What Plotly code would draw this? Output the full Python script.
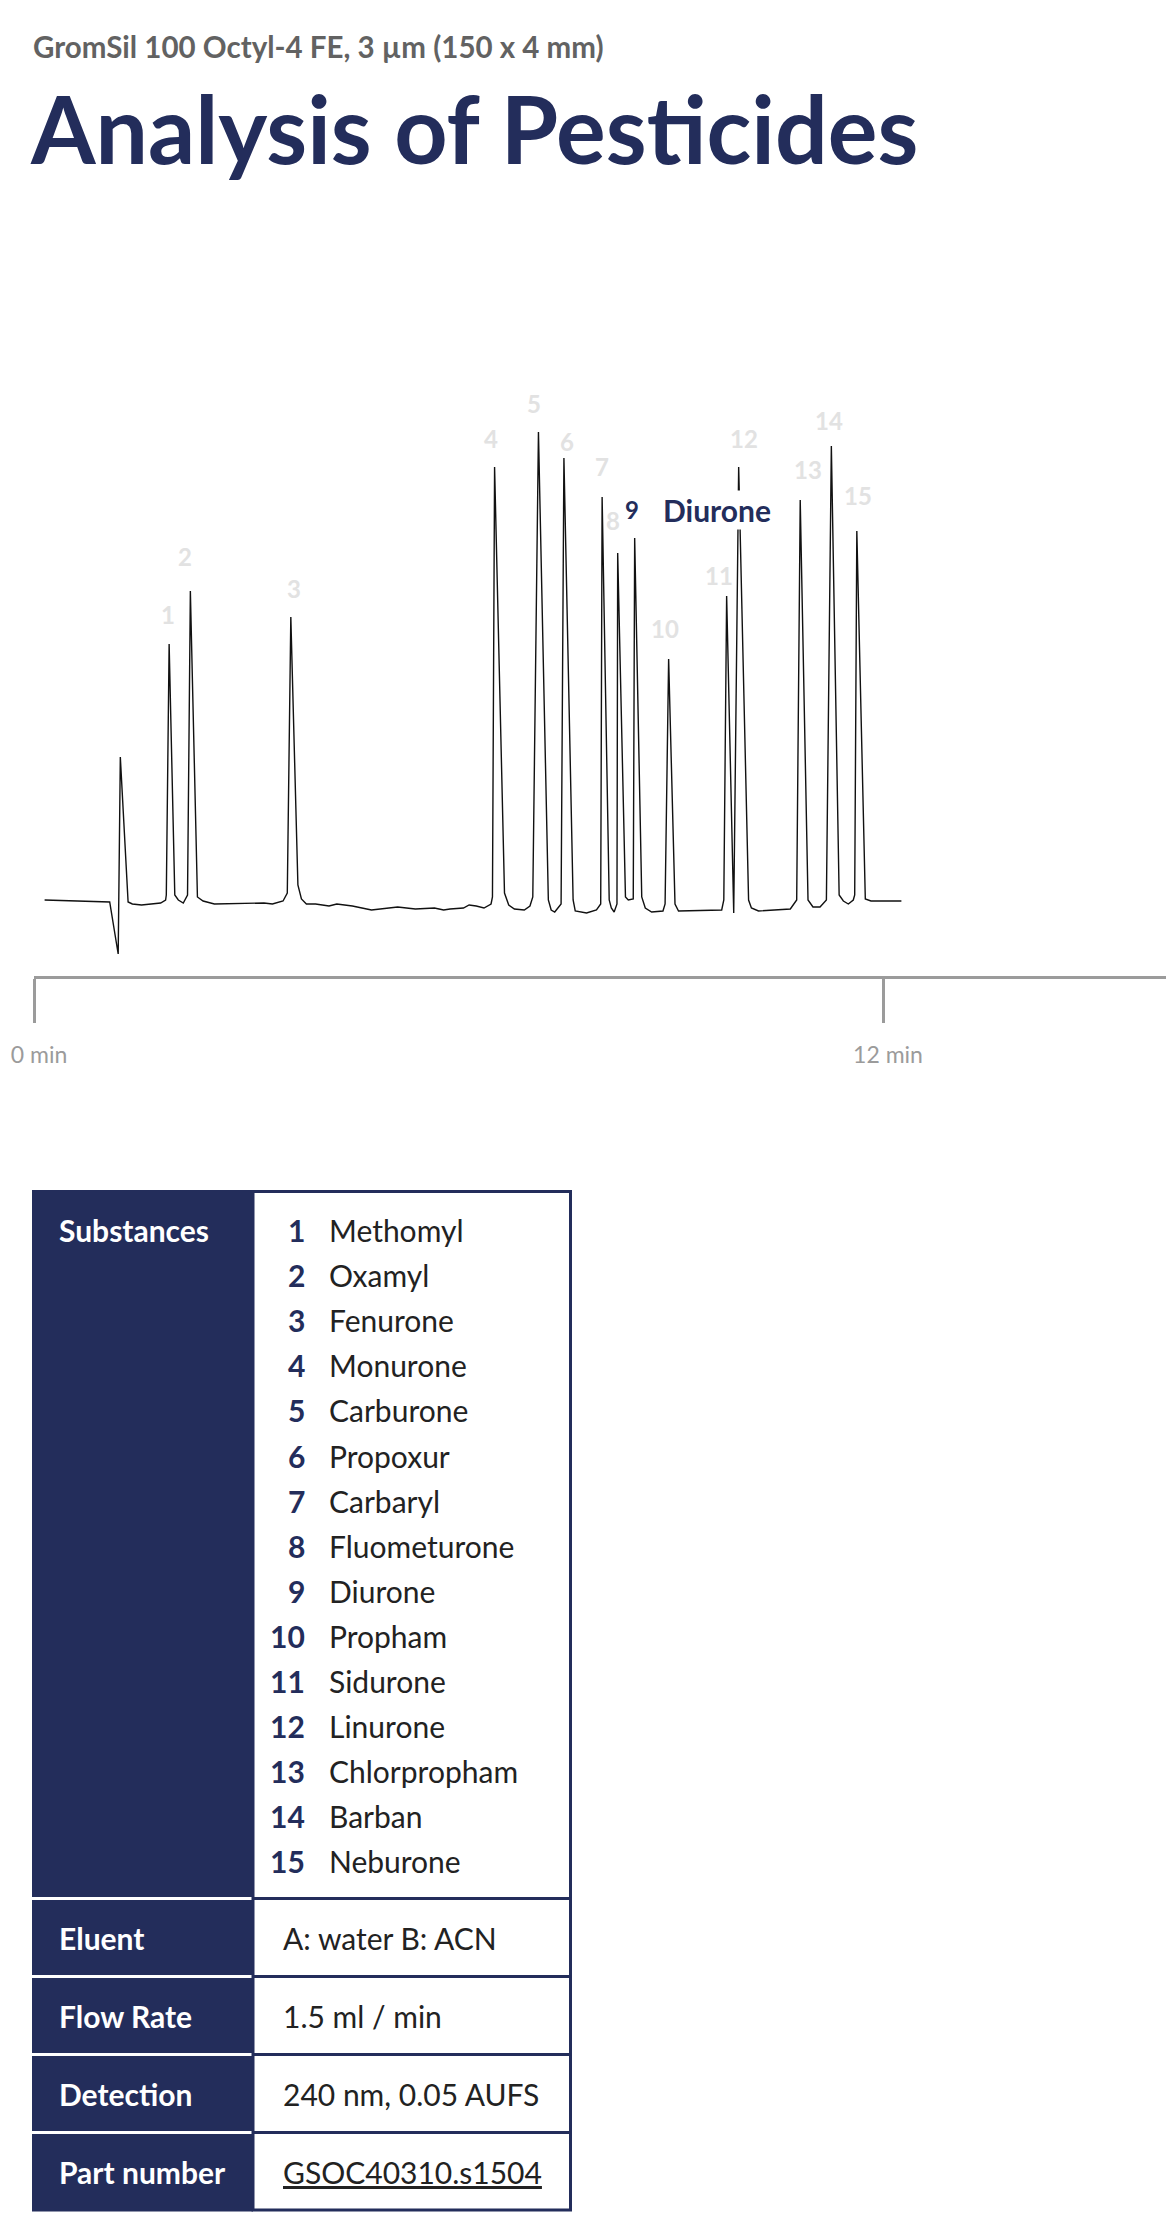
import plotly.graph_objects as go

# chromatogram trace (time in min, detector signal in mAU)
time_min = [0.15, 1.07, 1.19, 1.22, 1.33, 1.39, 1.52, 1.79, 1.86, 1.87, 1.91, 1.99, 2.04, 2.11, 2.17,
            2.21, 2.31, 2.39, 2.55, 3.25, 3.37, 3.52, 3.58, 3.63, 3.73, 3.78, 3.85, 3.98, 4.17, 4.28,
            4.50, 4.77, 5.14, 5.39, 5.66, 5.79, 5.88, 6.07, 6.15, 6.25, 6.36, 6.46, 6.48, 6.51, 6.65,
            6.71, 6.79, 6.93, 7.01, 7.05, 7.13, 7.27, 7.31, 7.36, 7.45, 7.49, 7.62, 7.65, 7.81, 7.95,
            8.01, 8.03, 8.13, 8.16, 8.20, 8.24, 8.25, 8.36, 8.40, 8.47, 8.49, 8.59, 8.64, 8.73, 8.89,
            8.92, 8.97, 9.06, 9.11, 9.72, 9.75, 9.79, 9.89, 9.96, 10.10, 10.14, 10.24, 10.69, 10.78,
            10.83, 10.94, 11.01, 11.11, 11.20, 11.27, 11.38, 11.44, 11.51, 11.58, 11.60, 11.63, 11.75,
            11.83, 12.26]
signal_mau = [0.0, -0.2, -5.4, 14.3, -0.2, -0.4, -0.5, -0.3, 0.0, 0.5, 25.6, 0.5, 0.0, -0.3, 0.5,
              30.9, 0.3, -0.1, -0.4, -0.3, -0.4, -0.1, 0.7, 28.3, 1.5, 0.1, -0.4, -0.4, -0.6, -0.4,
              -0.6, -1.0, -0.7, -0.9, -0.8, -1.0, -0.9, -0.8, -0.5, -0.6, -0.8, -0.4, 0.3, 43.3, 0.7,
              -0.5, -0.9, -1.0, -0.6, 0.3, 46.8, 0.0, -1.0, -1.2, -0.4, 44.2, 0.0, -1.1, -1.3, -1.0,
              -0.4, 40.3, 0.0, -0.8, -1.2, -0.4, 34.7, 0.3, 0.0, 0.1, 36.2, 0.3, -0.8, -1.2, -1.1,
              -0.4, 24.1, -0.4, -1.1, -1.0, 0.0, 30.4, -1.3, 43.3, 0.0, -0.8, -1.1, -0.9, 0.0,
              40.0, 0.0, -0.7, -0.7, 0.0, 45.4, 0.5, -0.1, -0.4, 0.0, 0.5, 36.9, 0.1,
              -0.1, -0.1]

# peaks: number, retention time, apex height
peak_no = list(range(1, 16))
peak_rt = [1.91, 2.21, 3.63, 6.51, 7.13, 7.49, 8.03, 8.25, 8.49, 8.97, 9.79, 9.96, 10.83, 11.27, 11.63]
peak_height = [25.6, 30.9, 28.3, 43.3, 46.8, 44.2, 40.3, 34.7, 36.2, 24.1, 30.4, 43.3, 40.0, 45.4, 36.9]
highlight_peak = 9

tick_vals = [0, 12]
tick_text = ["0 min", "12 min"]

substances = ["Methomyl", "Oxamyl", "Fenurone", "Monurone", "Carburone", "Propoxur", "Carbaryl",
              "Fluometurone", "Diurone", "Propham", "Sidurone", "Linurone", "Chlorpropham",
              "Barban", "Neburone"]
info_labels = ["Eluent", "Flow Rate", "Detection", "Part number"]
info_values = ["A: water B: ACN", "1.5 ml / min", "240 nm, 0.05 AUFS", "<u>GSOC40310.s1504</u>"]

column = "GromSil 100 Octyl-4 FE, 3 µm (150 x 4 mm)"
title = "Analysis of Pesticides"

# page geometry in pixels (page body adds an 8 px offset)
W, H = 1174, 2216
OFF = 8
NAVY = "#232d5b"
GREY = "#9b9b9b"
FONT = "Lato"
PX_PER_MIN = 70.75

# label offsets (px) relative to apex
label_dx = [-1, -5, 3, -4, -4, 3, 0, -5, -3, -4, -8, 5, 8, -2, 1]
label_dy = [29, 34, 28, 28, 28, 16, 30, 32, 28, 30, 20, 28, 30, 25, 35]


def X(px):
    return (px - OFF) / W


def Y(py):
    return 1 - (py - OFF) / H


fig = go.Figure()
fig.add_trace(go.Scatter(x=time_min, y=signal_mau, mode="lines",
                         line=dict(color="#111111", width=1.4), hoverinfo="skip"))

annotations = []

# header
annotations.append(dict(text="<b>" + column + "</b>", x=X(31), y=Y(46), xref="paper", yref="paper",
                         xanchor="left", yanchor="middle", showarrow=False,
                         font=dict(family=FONT, size=29.5, color="#626262")))
annotations.append(dict(text="<b>" + title + "</b>", x=X(28), y=Y(128), xref="paper", yref="paper",
                         xanchor="left", yanchor="middle", showarrow=False,
                         font=dict(family=FONT, size=93, color=NAVY)))

# peak labels
for n, rt, h, dx, dy in zip(peak_no, peak_rt, peak_height, label_dx, label_dy):
    if n == highlight_peak:
        annotations.append(dict(text="<b>%d</b>" % n, x=rt, y=h, xref="x", yref="y",
                                xshift=dx, yshift=dy, showarrow=False, bgcolor="white",
                                font=dict(family=FONT, size=24, color=NAVY)))
        annotations.append(dict(text="<b>" + substances[n - 1] + "</b>", x=rt, y=h, xref="x", yref="y",
                                xshift=26, yshift=dy, xanchor="left", showarrow=False, bgcolor="white",
                                font=dict(family=FONT, size=30, color=NAVY)))
    else:
        annotations.append(dict(text="<b>%d</b>" % n, x=rt, y=h, xref="x", yref="y",
                                xshift=dx, yshift=dy, showarrow=False,
                                font=dict(family=FONT, size=24, color="#e2e2e2")))

# table
shapes = []
left, mid, right = 32, 253, 572
row_edges = [1191, 1898.5, 1976.5, 2054.5, 2132.5, 2210.5]

shapes.append(dict(type="rect", xref="paper", yref="paper", x0=X(mid), x1=X(right - 1.5),
                   y0=Y(row_edges[0] + 0.5), y1=Y(row_edges[-1] - 0.5), fillcolor="white",
                   line=dict(color=NAVY, width=3)))
for i in range(len(row_edges) - 1):
    y0 = row_edges[i] + (1.5 if i > 0 else -1)
    y1 = row_edges[i + 1] - (1.5 if i < len(row_edges) - 2 else -1)
    shapes.append(dict(type="rect", xref="paper", yref="paper", x0=X(left), x1=X(mid),
                       y0=Y(y0), y1=Y(y1), fillcolor=NAVY, line=dict(width=0)))
    if i > 0:
        shapes.append(dict(type="line", xref="paper", yref="paper", x0=X(mid), x1=X(right - 1.5),
                           y0=Y(row_edges[i]), y1=Y(row_edges[i]), line=dict(color=NAVY, width=3)))

annotations.append(dict(text="<b>Substances</b>", x=X(57), y=Y(1230), xref="paper", yref="paper",
                         xanchor="left", yanchor="middle", showarrow=False,
                         font=dict(family=FONT, size=30, color="white")))
for i, name in enumerate(substances):
    yc = 1230 + 45.1 * i
    annotations.append(dict(text="<b>%d</b>" % (i + 1), x=X(307), y=Y(yc), xref="paper", yref="paper",
                            xanchor="right", yanchor="middle", showarrow=False,
                            font=dict(family=FONT, size=30, color=NAVY)))
    annotations.append(dict(text=name, x=X(327), y=Y(yc), xref="paper", yref="paper",
                            xanchor="left", yanchor="middle", showarrow=False,
                            font=dict(family=FONT, size=30, color="#222222")))

for i, (lab, val) in enumerate(zip(info_labels, info_values)):
    yc = (row_edges[i + 1] + row_edges[i + 2]) / 2
    annotations.append(dict(text="<b>" + lab + "</b>", x=X(57), y=Y(yc), xref="paper", yref="paper",
                            xanchor="left", yanchor="middle", showarrow=False,
                            font=dict(family=FONT, size=30, color="white")))
    annotations.append(dict(text=val, x=X(281), y=Y(yc), xref="paper", yref="paper",
                            xanchor="left", yanchor="middle", showarrow=False,
                            font=dict(family=FONT, size=30, color="#222222")))

fig.update_layout(
    width=W, height=H,
    margin=dict(l=0, r=0, t=0, b=0, autoexpand=False),
    paper_bgcolor="white", plot_bgcolor="white",
    showlegend=False,
    annotations=annotations,
    shapes=shapes,
    xaxis=dict(domain=[X(34), 1], range=[0, (W + OFF - 34) / PX_PER_MIN], showgrid=False, zeroline=False,
               automargin=False, showline=True, linewidth=3, linecolor=GREY,
               ticks="outside", ticklen=44, tickwidth=3, tickcolor=GREY,
               tickvals=tick_vals, ticktext=tick_text, ticklabeloverflow="allow",
               ticklabelstandoff=12, ticklabelshift=5,
               tickfont=dict(family=FONT, size=23, color=GREY)),
    yaxis=dict(domain=[Y(976), Y(380)], range=[(900 - 976) / 10, (900 - 380) / 10], visible=False),
)

fig.write_html("out.html")
